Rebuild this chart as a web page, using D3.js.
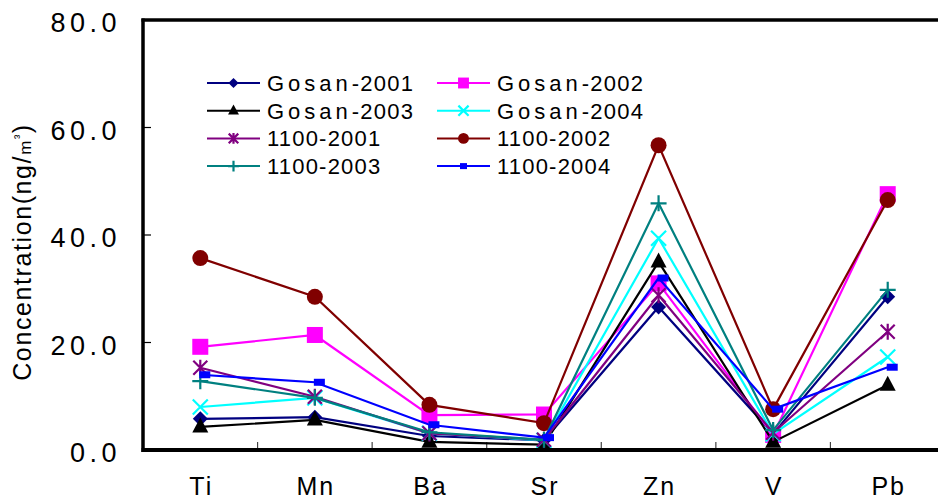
<!DOCTYPE html>
<html>
<head>
<meta charset="utf-8">
<script src="https://cdn.jsdelivr.net/npm/d3@7"></script>
<style>
  html, body { margin: 0; padding: 0; background: #fff; }
  svg { display: block; }
  text { font-family: "Liberation Sans", Arial, sans-serif; fill: #000; }
</style>
</head>
<body>
<svg id="chart" width="938" height="502"></svg>
<script>
// Elements measured
const categories = ["Ti", "Mn", "Ba", "Sr", "Zn", "V", "Pb"];

// Concentrations (ng/m3) per site and year
const gosan2001 = [5.8, 6.1, 2.6, 1.8, 26.6, 3.0, 28.5];
const gosan2002 = [19.2, 21.4, 6.5, 6.6, 31.0, 2.8, 47.6];
const gosan2003 = [4.3, 5.6, 1.5, 1.0, 35.0, 1.5, 12.1];
const gosan2004 = [8.0, 9.7, 3.1, 1.8, 39.4, 3.0, 17.3];
const s1100_2001 = [15.3, 9.9, 3.1, 1.9, 28.8, 3.2, 22.0];
const s1100_2002 = [35.7, 28.5, 8.4, 5.0, 56.7, 7.6, 46.5];
const s1100_2003 = [12.8, 9.7, 3.3, 1.9, 45.9, 3.7, 29.8];
const s1100_2004 = [14.0, 12.6, 4.7, 2.3, 32.0, 7.6, 15.4];

const seriesNames = ["Gosan-2001", "Gosan-2002", "Gosan-2003", "Gosan-2004",
                     "1100-2001", "1100-2002", "1100-2003", "1100-2004"];
const seriesValues = [gosan2001, gosan2002, gosan2003, gosan2004,
                      s1100_2001, s1100_2002, s1100_2003, s1100_2004];
const seriesColors = ["#000080", "#ff00ff", "#000000", "#00ffff",
                      "#800080", "#800000", "#008080", "#0000ff"];
const seriesMarkers = ["diamond", "square", "triangle", "cross",
                       "star", "circle", "plus", "dash"];

const yTicks = [0, 20, 40, 60, 80];

const svg = d3.select("#chart");
const plotLeft = 143, plotRight = 945, plotTop = 20, plotBottom = 450;

const x = d3.scaleBand().domain(categories).range([plotLeft, plotRight]);
const y = d3.scaleLinear().domain([0, 80]).range([plotBottom, plotTop]);

// Draws one marker of the given kind centred on (cx, cy); k scales it
function drawMarker(g, kind, cx, cy, color, k) {
  switch (kind) {
    case "diamond": {
      const r = 7.5 * k;
      g.append("path").attr("d", `M${cx},${cy - r}L${cx + r},${cy}L${cx},${cy + r}L${cx - r},${cy}Z`)
        .attr("fill", color);
      break;
    }
    case "square": {
      const s = 16 * k;
      g.append("rect").attr("x", cx - s / 2).attr("y", cy - s / 2).attr("width", s).attr("height", s)
        .attr("fill", color);
      break;
    }
    case "triangle": {
      const h = 15 * k, w = 16 * k;
      g.append("path").attr("d", `M${cx},${cy - h * 0.62}L${cx + w / 2},${cy + h * 0.38}L${cx - w / 2},${cy + h * 0.38}Z`)
        .attr("fill", color);
      break;
    }
    case "circle":
      g.append("circle").attr("cx", cx).attr("cy", cy).attr("r", 8 * k).attr("fill", color);
      break;
    case "cross": {
      const r = 7.5 * k;
      g.append("path").attr("d", `M${cx - r},${cy - r}L${cx + r},${cy + r}M${cx - r},${cy + r}L${cx + r},${cy - r}`)
        .attr("stroke", color).attr("stroke-width", 2.2).attr("fill", "none");
      break;
    }
    case "star": {
      const r = 7 * k;
      g.append("path").attr("d", `M${cx - r},${cy - r}L${cx + r},${cy + r}M${cx - r},${cy + r}L${cx + r},${cy - r}M${cx},${cy - r * 1.15}L${cx},${cy + r * 1.15}`)
        .attr("stroke", color).attr("stroke-width", 2.2).attr("fill", "none");
      break;
    }
    case "plus": {
      const r = 8 * k;
      g.append("path").attr("d", `M${cx - r},${cy}L${cx + r},${cy}M${cx},${cy - r}L${cx},${cy + r}`)
        .attr("stroke", color).attr("stroke-width", 2.2).attr("fill", "none");
      break;
    }
    case "dash": {
      if (k < 1) {
        g.append("rect").attr("x", cx - 3.5).attr("y", cy - 3).attr("width", 7).attr("height", 6)
          .attr("fill", color);
      } else {
        g.append("rect").attr("x", cx - 1).attr("y", cy - 3.5).attr("width", 11).attr("height", 7)
          .attr("fill", color);
      }
      break;
    }
  }
}

// Y axis title
const title = svg.append("text")
  .attr("transform", "translate(31,252) rotate(-90)")
  .attr("text-anchor", "middle")
  .style("font-size", "25px")
  .style("letter-spacing", "1.6px");
title.append("tspan").text("Concentration(ng/");
title.append("tspan").text("m").style("font-size", "17px");
title.append("tspan").text("³").attr("dy", -8).style("font-size", "13px");
title.append("tspan").text(")").attr("dy", 8);

// Y tick labels
svg.append("g").selectAll("text").data(yTicks).join("text")
  .attr("x", 121)
  .attr("y", d => y(d) + 12)
  .attr("text-anchor", "end")
  .style("font-size", "27px")
  .style("letter-spacing", "4.5px")
  .text(d => d.toFixed(1));

// Y ticks (inside)
svg.append("g").selectAll("line").data(yTicks.filter(d => d > 0 && d < 80)).join("line")
  .attr("x1", plotLeft).attr("x2", plotLeft + 8)
  .attr("y1", d => y(d)).attr("y2", d => y(d))
  .attr("stroke", "#000").attr("stroke-width", 1.2);

// X ticks (inside, at category boundaries)
const bounds = categories.slice(1).map(c => x(c));
svg.append("g").selectAll("line").data(bounds).join("line")
  .attr("x1", d => d).attr("x2", d => d)
  .attr("y1", plotBottom).attr("y2", plotBottom - 8)
  .attr("stroke", "#444").attr("stroke-width", 1.2);

// Category labels
svg.append("g").selectAll("text").data(categories).join("text")
  .attr("x", d => x(d) + x.bandwidth() / 2 + 1)
  .attr("y", 495)
  .attr("text-anchor", "middle")
  .style("font-size", "25px")
  .style("letter-spacing", "2px")
  .text(d => d);

// Series lines and markers
const line = d3.line()
  .x((d, i) => x(categories[i]) + x.bandwidth() / 2)
  .y(d => y(d));

seriesValues.forEach((vals, si) => {
  const g = svg.append("g");
  g.append("path").datum(vals)
    .attr("d", line)
    .attr("fill", "none")
    .attr("stroke", seriesColors[si])
    .attr("stroke-width", 2.2);
  vals.forEach((v, i) => {
    drawMarker(g, seriesMarkers[si], x(categories[i]) + x.bandwidth() / 2, y(v), seriesColors[si], 1);
  });
});

// Frame: left axis, bottom axis, top border
svg.append("line").attr("x1", plotLeft).attr("x2", plotLeft).attr("y1", plotTop - 1.5).attr("y2", plotBottom + 2)
  .attr("stroke", "#000").attr("stroke-width", 3.5);
svg.append("line").attr("x1", plotLeft - 1.5).attr("x2", 938).attr("y1", plotBottom).attr("y2", plotBottom)
  .attr("stroke", "#000").attr("stroke-width", 4);
svg.append("line").attr("x1", plotLeft - 1.5).attr("x2", 938).attr("y1", plotTop).attr("y2", plotTop)
  .attr("stroke", "#000").attr("stroke-width", 3.5);

// Legend, two columns
const legend = svg.append("g");
seriesNames.forEach((name, i) => {
  const col = i % 2, row = Math.floor(i / 2);
  const lx = 207 + col * 230, ly = 83 + row * 27.7;
  const g = legend.append("g");
  g.append("line").attr("x1", lx).attr("x2", lx + 53).attr("y1", ly).attr("y2", ly)
    .attr("stroke", seriesColors[i]).attr("stroke-width", 2);
  drawMarker(g, seriesMarkers[i], lx + 26.5, ly, seriesColors[i], 0.68);
  const t = g.append("text").attr("x", lx + 60).attr("y", ly + 8)
    .style("font-size", "22px");
  const m = name.match(/^([A-Za-z]*)(.*)$/);
  if (m[1]) t.append("tspan").text(m[1]).style("letter-spacing", "4px");
  t.append("tspan").text(m[2]).style("letter-spacing", "1.2px");
});
</script>
</body>
</html>
